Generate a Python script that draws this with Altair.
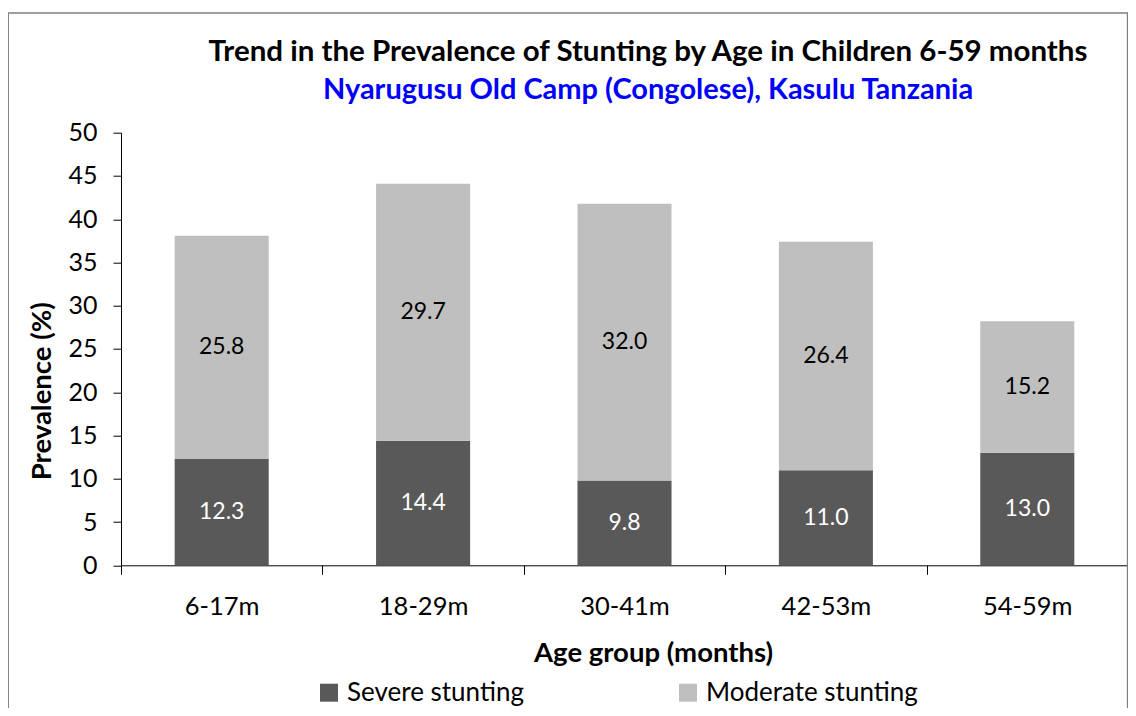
import altair as alt
import pandas as pd

# ---- data ----
age_groups = ["6-17m", "18-29m", "30-41m", "42-53m", "54-59m"]
severe = [12.3, 14.4, 9.8, 11.0, 13.0]
moderate = [25.8, 29.7, 32.0, 26.4, 15.2]
series_names = ["Severe stunting", "Moderate stunting"]
series_colors = ["#595959", "#BFBFBF"]
y_ticks = [0, 5, 10, 15, 20, 25, 30, 35, 40, 45, 50]

rows = []
for i, a in enumerate(age_groups):
    rows.append({"age": a, "series": series_names[0], "value": severe[i], "ord": 0})
    rows.append({"age": a, "series": series_names[1], "value": moderate[i], "ord": 1})
df = pd.DataFrame(rows)

W, H = 1007, 432.6
FONT = "Lato"

x_enc = alt.X("age:N", sort=age_groups, title="Age group (months)",
              scale=alt.Scale(paddingInner=0, paddingOuter=0))

base = alt.Chart(df).transform_stack(
    stack="value", groupby=["age"], as_=["v0", "v1"],
    sort=[alt.SortField("ord", order="ascending")]
).transform_calculate(mid="(datum.v0 + datum.v1) / 2")

bars = base.mark_bar(width={"band": 0.467}).encode(
    x=x_enc,
    y=alt.Y("v0:Q", title="Prevalence (%)",
            scale=alt.Scale(domain=[0, 50], nice=False, zero=True)),
    y2="v1:Q",
    color=alt.Color("series:N",
                    scale=alt.Scale(domain=series_names, range=series_colors),
                    legend=alt.Legend(title=None, orient="none", legendX=195, legendY=547,
                                      direction="horizontal", symbolType="square",
                                      symbolSize=324, symbolStrokeWidth=0,
                                      labelFont=FONT, labelFontSize=26, labelColor="black",
                                      labelOffset=5, columnPadding=150, labelLimit=400)),
    order=alt.Order("ord:Q"),
)

labels = base.mark_text(font=FONT, fontSize=23, baseline="middle", align="center").encode(
    x=x_enc,
    y=alt.Y("mid:Q", title="Prevalence (%)"),
    text=alt.Text("value:Q", format=".1f"),
    color=alt.condition("datum.series == 'Severe stunting'", alt.value("white"), alt.value("black")),
)

frame = alt.Chart(pd.DataFrame({"f": [0]})).mark_rect(
    fillOpacity=0, stroke="#7f7f7f", strokeWidth=1.3
).encode(
    x=alt.value(-112.7), x2=alt.value(W - 0.5),
    y=alt.value(-119.7), y2=alt.value(H + 200),
)

chart = alt.layer(frame, bars, labels).properties(
    width=W, height=H,
    autosize=alt.AutoSizeParams(type="none"),
    padding={"left": 113, "top": 124.7, "right": 0, "bottom": 142.5},
    title=alt.Title(
        "Trend in the Prevalence of Stunting by Age in Children 6-59 months",
        subtitle="Nyarugusu Old Camp (Congolese), Kasulu Tanzania",
        font=FONT, fontSize=29.5, fontWeight="bold", color="black",
        subtitleFont=FONT, subtitleFontSize=29, subtitleFontWeight="bold",
        subtitleColor="#0000FF", anchor="middle", dx=23.5, offset=-94,
        subtitlePadding=9, frame="group",
    ),
).configure_view(stroke=None).configure_axisX(
    labelFont=FONT, labelFontSize=25.5, labelColor="black", labelAngle=0, labelPadding=20,
    tickSize=9, tickBand="extent", tickColor="black", domainColor="black",
    titleFont=FONT, titleFontSize=27.5, titleFontWeight="bold", titleColor="black",
    titleX=532, titleY=96.7, titleAlign="center", titleBaseline="alphabetic",
).configure_axisY(
    values=y_ticks, grid=False,
    labelFont=FONT, labelFontSize=25, labelColor="black", labelPadding=16,
    tickSize=8, tickColor="black", domainColor="black",
    titleFont=FONT, titleFontSize=27.5, titleFontWeight="bold", titleColor="black",
    titleAngle=270, titleX=-71, titleY=258, titleAlign="center", titleBaseline="alphabetic",
)

chart.save("out.html", embed_options={"renderer": "svg", "actions": False})
